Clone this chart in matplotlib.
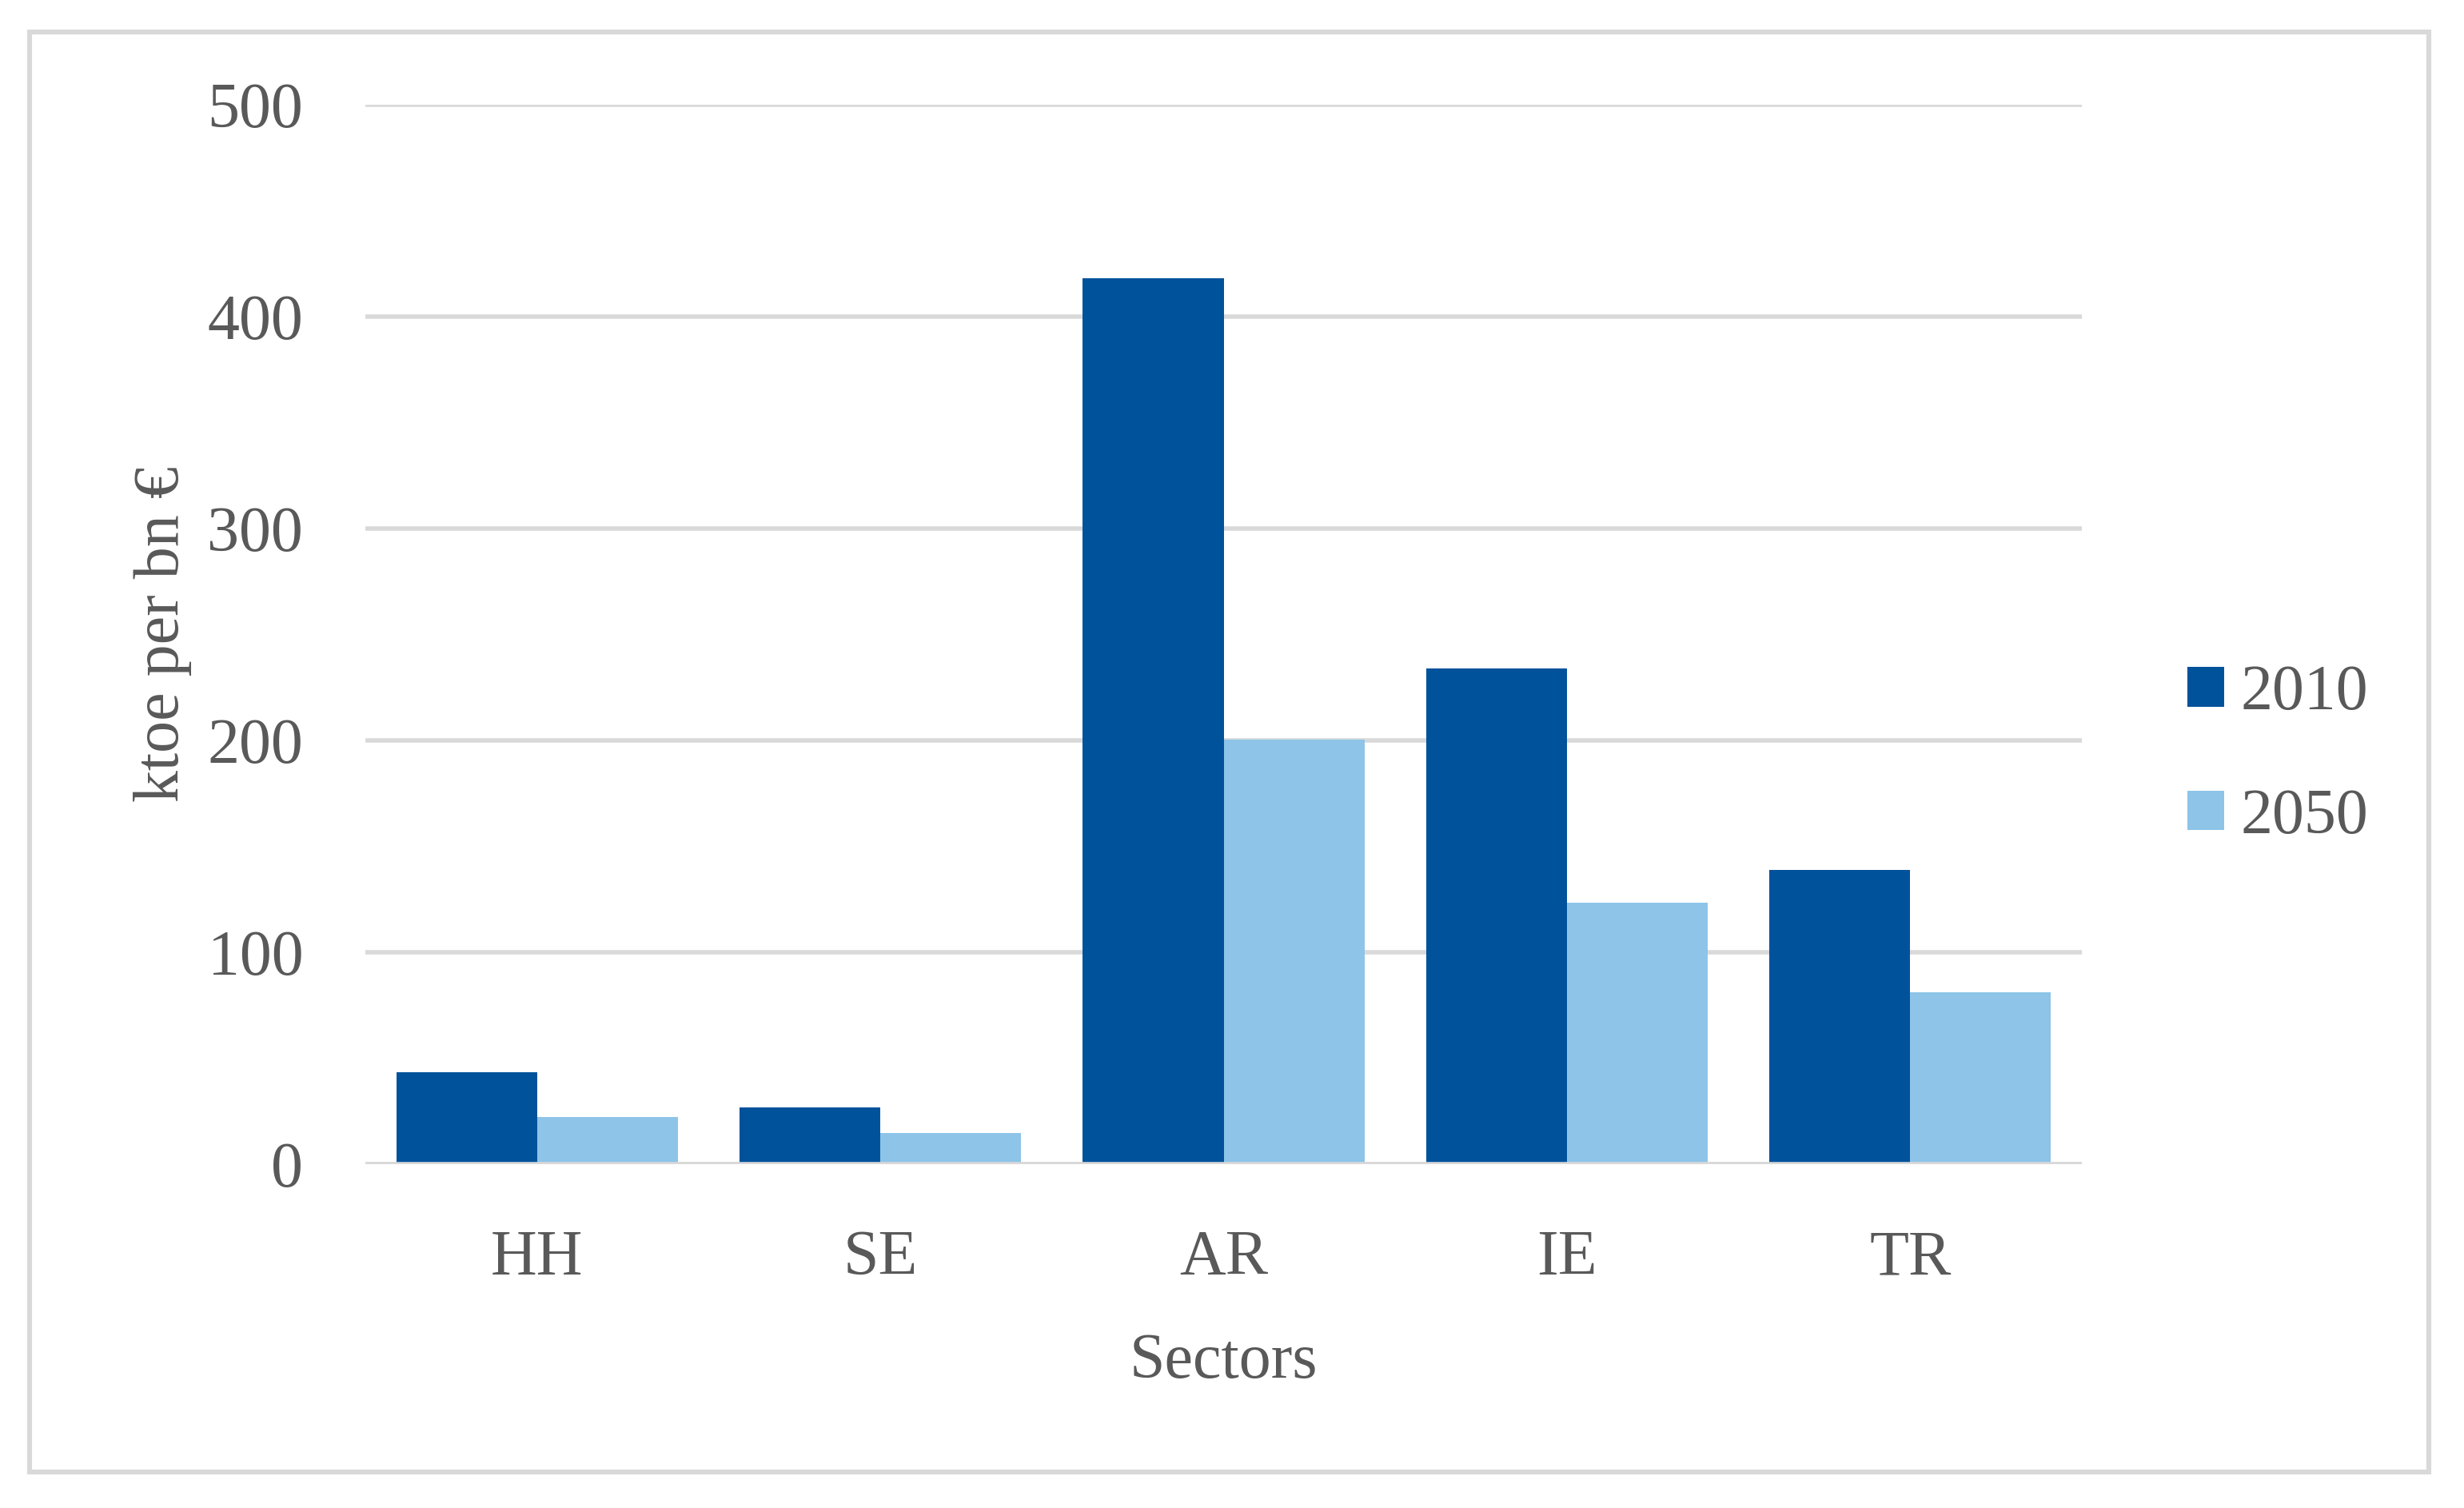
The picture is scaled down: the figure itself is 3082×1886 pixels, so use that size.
import matplotlib
matplotlib.use("Agg")
import matplotlib.pyplot as plt
from matplotlib.patches import Rectangle, Patch
import numpy as np

sectors = ["HH", "SE", "AR", "IE", "TR"]
series_names = ["2010", "2050"]
values_2010 = [43.3, 26.7, 418.0, 234.0, 139.0]
values_2050 = [22.3, 14.6, 200.5, 123.5, 81.0]
y_ticks = [0, 100, 200, 300, 400, 500]

dark_blue = "#00529B"
light_blue = "#8DC4E8"
grid_col = "#D9D9D9"
text_col = "#595959"
FONT = ["Liberation Serif", "DejaVu Serif"]
FS = 28.8

plt.rcParams["font.family"] = FONT

W, H = 3082, 1886
DPI = 200
fig = plt.figure(figsize=(W / DPI, H / DPI), dpi=DPI)
fig.patch.set_facecolor("white")

# outer frame
fig.add_artist(Rectangle((36.5 / W, 45 / H), (3038 - 36.5) / W, (1846 - 45) / H,
                         transform=fig.transFigure, fill=False,
                         edgecolor=grid_col, linewidth=2.2, zorder=0))

ax = fig.add_axes([457 / W, (H - 1456) / H, (2604 - 457) / W, (1456 - 131) / H])
x = np.arange(len(sectors))
w = 0.41
ax.bar(x - w / 2, values_2010, w, color=dark_blue, label=series_names[0], zorder=3)
ax.bar(x + w / 2, values_2050, w, color=light_blue, label=series_names[1], zorder=3)

ax.set_xlim(-0.5, len(sectors) - 0.5)
ax.set_ylim(0, 500)
ax.set_yticks(y_ticks)
ax.set_xticks(x)
ax.set_xticklabels(sectors)

for s in ax.spines.values():
    s.set_visible(False)
ax.yaxis.grid(True, color=grid_col, linewidth=2.0, zorder=0)
ax.set_axisbelow(True)
ax.axhline(0, color=grid_col, linewidth=2.0, zorder=4)

ax.tick_params(axis="both", length=0, labelsize=FS, labelcolor=text_col)
ax.tick_params(axis="y", pad=28)
ax.tick_params(axis="x", pad=29.5)

ax.set_xlabel("Sectors", fontsize=FS, color=text_col, labelpad=20)
ax.set_ylabel("ktoe per bn €", fontsize=FS, color=text_col, labelpad=7)

handles = [Patch(facecolor=dark_blue), Patch(facecolor=light_blue)]
leg = ax.legend(handles, series_names, loc="center left",
                bbox_to_anchor=(2736 / W, (H - 945) / H),
                bbox_transform=fig.transFigure, frameon=False,
                fontsize=FS, handlelength=0.58, handleheight=0.58,
                handletextpad=0.25, labelspacing=1.02, borderpad=0,
                borderaxespad=0)
for t in leg.get_texts():
    t.set_color(text_col)

fig.savefig("out.png", dpi=DPI, facecolor="white")
